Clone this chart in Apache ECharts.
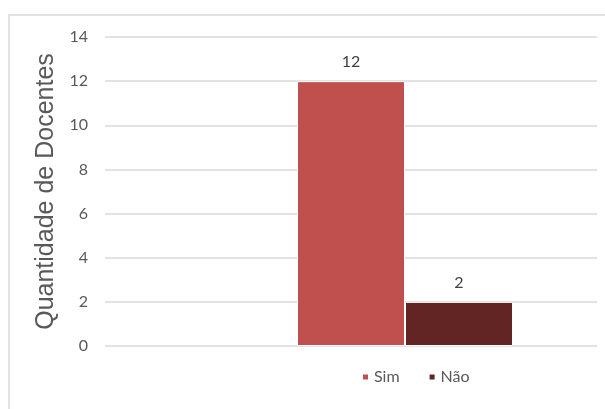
<!DOCTYPE html>
<html><head><meta charset="utf-8">
<script src="https://cdn.jsdelivr.net/npm/echarts@6/dist/echarts.min.js"></script>
<style>html,body{margin:0;padding:0;background:#fff}#c{width:605px;height:409px}</style>
</head><body><div id="c"></div>
<script>
var categories = [''];
var seriesNames = ['', 'Sim', 'Não'];
var emptyValues = [null];
var simValues = [12];
var naoValues = [2];
var yTicks = [0, 2, 4, 6, 8, 10, 12, 14];
var yAxisTitle = 'Quantidade de Docentes';

var chart = echarts.init(document.getElementById('c'), null, {renderer: 'canvas'});
var labelFont = 'Lato, "Liberation Sans", sans-serif';
function barSeries(name, data, color) {
  return {
    name: name, type: 'bar', data: data, barWidth: 108, barGap: '0%',
    itemStyle: {color: color, borderColor: '#ffffff', borderWidth: 1},
    label: {show: true, position: 'top', distance: 11, color: '#404040', fontSize: 16, fontFamily: labelFont},
    animation: false
  };
}
chart.setOption({
  animation: false,
  backgroundColor: '#ffffff',
  graphic: [{type: 'rect', shape: {x: 9, y: 15, width: 700, height: 500}, style: {fill: 'none', stroke: '#D9D9D9', lineWidth: 1.5}, silent: true}],
  grid: {left: 105, right: 8, top: 37, bottom: 63},
  legend: {
    data: [seriesNames[1], seriesNames[2]], left: 356, top: 364, icon: 'rect', itemWidth: 7, itemHeight: 7, itemGap: 28,
    textStyle: {color: '#595959', fontSize: 16, fontFamily: labelFont}
  },
  xAxis: {type: 'category', data: categories, axisLine: {show: false}, axisTick: {show: false}, axisLabel: {show: false}},
  yAxis: {
    type: 'value', min: yTicks[0], max: yTicks[yTicks.length - 1], interval: yTicks[1] - yTicks[0],
    name: yAxisTitle, nameLocation: 'middle', nameGap: 41,
    nameTextStyle: {color: '#595959', fontSize: 25, fontFamily: '"Liberation Sans", Arial, sans-serif'},
    axisLine: {show: false}, axisTick: {show: false},
    axisLabel: {color: '#595959', fontSize: 16, fontFamily: labelFont, margin: 17},
    splitLine: {lineStyle: {color: '#D9D9D9', width: 1.5}}
  },
  series: [
    barSeries(seriesNames[0], emptyValues, '#9BBB59'),
    barSeries(seriesNames[1], simValues, '#C0504D'),
    barSeries(seriesNames[2], naoValues, '#632523')
  ]
});
</script></body></html>
